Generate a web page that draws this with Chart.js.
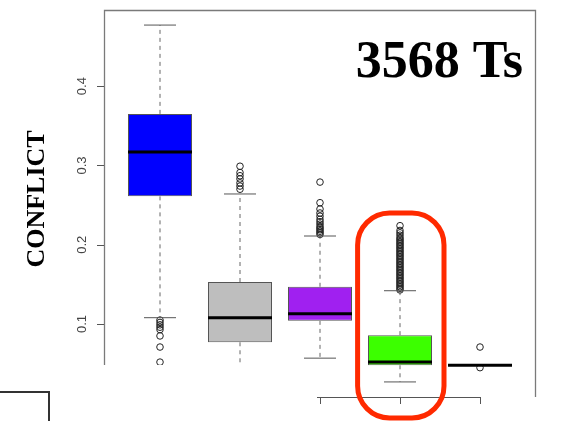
<!DOCTYPE html>
<html>
<head>
<meta charset="utf-8">
<script src="https://cdn.jsdelivr.net/npm/chart.js@4"></script>
<style>
  body { margin: 0; background: #fff; }
  #wrap { position: relative; width: 561px; height: 421px; overflow: hidden; }
  #mask { position: absolute; left: 0; top: 365px; width: 317px; height: 56px; background: #fff; }
  #corner { position: absolute; left: -4px; top: 26px; width: 50px; height: 60px; border: 2px solid #333; }
</style>
</head>
<body>
<div id="wrap">
  <canvas id="chart" width="561" height="421"></canvas>
  <div id="mask"><div id="corner"></div></div>
</div>
<script>
// positions of the five groups on the x axis
const groups = [1, 2, 3, 4, 5];
const boxColors = ['#0000ff', '#bebebe', '#a020f0', '#3cff00', '#ffffff'];

// box statistics
const lowerWhisker = [0.108, 0.030, 0.057, 0.027, 0.048];
const q1 = [0.261, 0.077, 0.104, 0.048, 0.048];
const median = [0.317, 0.108, 0.113, 0.052, 0.048];
const q3 = [0.365, 0.153, 0.147, 0.086, 0.048];
const upperWhisker = [0.477, 0.264, 0.211, 0.142, 0.048];

const outliersBlue = [0.105, 0.102, 0.099, 0.096, 0.093, 0.085, 0.071, 0.052];
const outliersGray = [0.270, 0.274, 0.278, 0.283, 0.287, 0.291, 0.299];
const outliersPurple = [0.213, 0.215, 0.217, 0.219, 0.221, 0.223, 0.226, 0.229, 0.232, 0.236, 0.240, 0.245, 0.253, 0.279];
const outliersGreen = [0.143, 0.145, 0.147, 0.149, 0.151, 0.153, 0.155, 0.157, 0.159, 0.161, 0.163, 0.165,
  0.167, 0.169, 0.171, 0.173, 0.175, 0.177, 0.179, 0.181, 0.183, 0.185, 0.187, 0.189, 0.191, 0.193,
  0.195, 0.197, 0.199, 0.201, 0.203, 0.205, 0.207, 0.209, 0.212, 0.215, 0.218, 0.224];
const outliersLast = [0.071, 0.045];
const outliers = [outliersBlue, outliersGray, outliersPurple, outliersGreen, outliersLast];

const yTicks = [0.1, 0.2, 0.3, 0.4];
const yLabel = 'CONFLICT';
const title = '3568 Ts';
const highlightGroup = 4;

// construit les segments (un trou entre chaque segment)
const medianData = [];
const whiskerData = [];
const capData = [];
groups.forEach((g, i) => {
    medianData.push({ x: g - 0.4, y: median[i] }, { x: g + 0.4, y: median[i] }, { x: g, y: null });
    whiskerData.push({ x: g, y: q3[i] }, { x: g, y: upperWhisker[i] }, { x: g, y: null });
    whiskerData.push({ x: g, y: q1[i] }, { x: g, y: lowerWhisker[i] }, { x: g, y: null });
    capData.push({ x: g - 0.2, y: upperWhisker[i] }, { x: g + 0.2, y: upperWhisker[i] }, { x: g, y: null });
    capData.push({ x: g - 0.2, y: lowerWhisker[i] }, { x: g + 0.2, y: lowerWhisker[i] }, { x: g, y: null });
});
const outlierData = [];
groups.forEach((g, i) => outliers[i].forEach(v => outlierData.push({ x: g, y: v })));

// cadre, axes, textes et surlignage rouge
const decorations = {
    id: 'decorations',
    afterDraw(chart) {
        const { ctx, chartArea: a, scales: { x, y } } = chart;
        ctx.save();
        // cadre (gauche, haut, droite)
        ctx.strokeStyle = '#7a7a7a';
        ctx.lineWidth = 1.3;
        ctx.beginPath();
        ctx.moveTo(a.left + 0.5, a.bottom);
        ctx.lineTo(a.left + 0.5, a.top + 0.5);
        ctx.lineTo(a.right - 0.5, a.top + 0.5);
        ctx.lineTo(a.right - 0.5, a.bottom);
        ctx.stroke();

        // axe x
        ctx.strokeStyle = '#555';
        ctx.lineWidth = 1;
        ctx.beginPath();
        ctx.moveTo(x.getPixelForValue(groups[0]), a.bottom + 0.5);
        ctx.lineTo(x.getPixelForValue(groups[groups.length - 1]), a.bottom + 0.5);
        groups.forEach(g => {
            const px = Math.round(x.getPixelForValue(g)) + 0.5;
            ctx.moveTo(px, a.bottom);
            ctx.lineTo(px, a.bottom + 7);
        });
        ctx.stroke();

        // axe y
        ctx.beginPath();
        yTicks.forEach(t => {
            const py = Math.round(y.getPixelForValue(t)) + 0.5;
            ctx.moveTo(a.left, py);
            ctx.lineTo(a.left - 7, py);
        });
        ctx.stroke();
        ctx.fillStyle = '#444';
        ctx.font = '13px "Liberation Sans", Arial, sans-serif';
        ctx.textAlign = 'center';
        ctx.textBaseline = 'middle';
        yTicks.forEach(t => {
            ctx.save();
            ctx.translate(a.left - 22, y.getPixelForValue(t));
            ctx.rotate(-Math.PI / 2);
            ctx.fillText(t.toFixed(1), 0, 0);
            ctx.restore();
        });

        // titre de l'axe y
        ctx.save();
        ctx.fillStyle = '#000';
        ctx.font = 'bold 26px "Liberation Serif", "Times New Roman", serif';
        ctx.translate(37, 199);
        ctx.rotate(-Math.PI / 2);
        ctx.fillText(yLabel, 0, 0);
        ctx.restore();

        // titre dans le graphique
        ctx.fillStyle = '#000';
        ctx.font = 'bold 52px "Liberation Serif", "Times New Roman", serif';
        ctx.textAlign = 'right';
        ctx.textBaseline = 'alphabetic';
        ctx.fillText(title, a.right - 13, a.top + 67);

        // surlignage rouge autour du groupe 4
        const i = groups.indexOf(highlightGroup);
        const left = x.getPixelForValue(highlightGroup - 0.53);
        const right = x.getPixelForValue(highlightGroup + 0.55);
        const top = y.getPixelForValue(Math.max(...outliers[i]) + 0.016);
        const bottom = a.bottom + 21;
        ctx.strokeStyle = '#ff2a00';
        ctx.lineWidth = 5;
        ctx.beginPath();
        ctx.roundRect(left, top, right - left, bottom - top, 32);
        ctx.stroke();
        ctx.restore();
    }
};

new Chart(document.getElementById('chart'), {
    type: 'bar',
    data: {
        datasets: [
            {
                type: 'line',
                data: medianData,
                borderColor: '#000',
                borderWidth: 3,
                pointRadius: 0,
                spanGaps: false,
                order: 0
            },
            {
                type: 'bar',
                data: groups.map((g, i) => ({ x: g, y: [q1[i], q3[i]] })),
                backgroundColor: boxColors,
                borderColor: '#555',
                borderWidth: 1,
                borderSkipped: false,
                categoryPercentage: 0.8,
                barPercentage: 1,
                order: 1
            },
            {
                type: 'line',
                data: capData,
                borderColor: '#555',
                borderWidth: 1,
                pointRadius: 0,
                spanGaps: false,
                order: 2
            },
            {
                type: 'line',
                data: whiskerData,
                borderColor: '#666',
                borderWidth: 1,
                borderDash: [4, 4],
                pointRadius: 0,
                spanGaps: false,
                order: 3
            },
            {
                type: 'scatter',
                data: outlierData,
                pointStyle: 'circle',
                pointRadius: 3.3,
                borderWidth: 1,
                borderColor: '#222',
                backgroundColor: 'rgba(0,0,0,0)',
                order: 4
            }
        ]
    },
    options: {
        responsive: false,
        animation: false,
        layout: { padding: { left: 104, right: 25, top: 10, bottom: 24 } },
        plugins: { legend: { display: false }, tooltip: { enabled: false } },
        scales: {
            x: {
                type: 'linear', min: 0.3, max: 5.7, offset: false, display: false,
                // les graduations sur les groupes : la largeur des boîtes en dépend
                afterBuildTicks: scale => { scale.ticks = groups.map(g => ({ value: g })); }
            },
            y: { type: 'linear', min: 0.008, max: 0.496, display: false }
        }
    },
    plugins: [decorations]
});
</script>
</body>
</html>
